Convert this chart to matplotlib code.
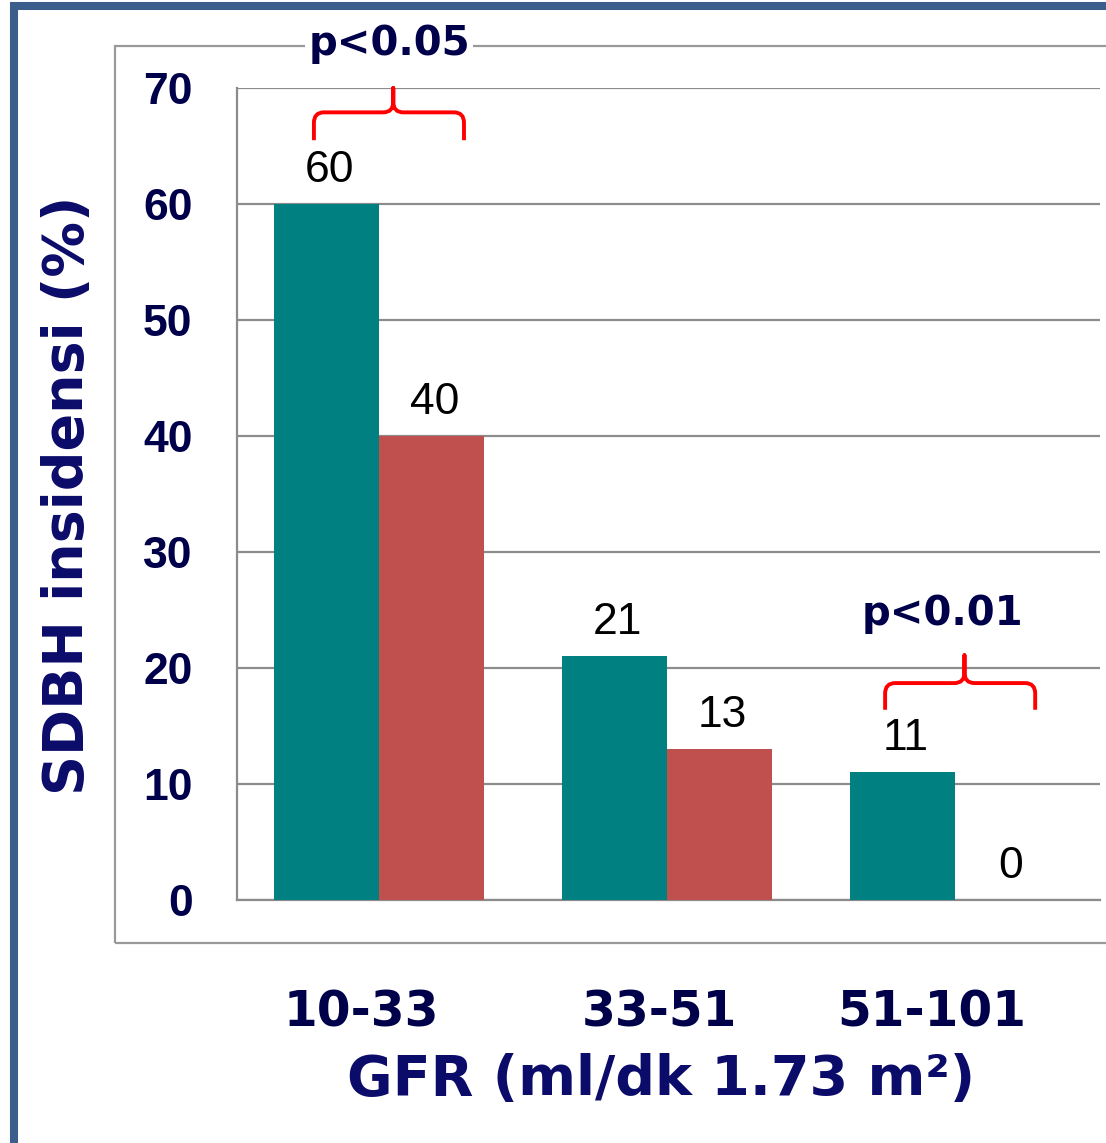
import numpy as np
import matplotlib.pyplot as plt
from matplotlib.patches import Rectangle, PathPatch
from matplotlib.path import Path

# GFR groups and SDBH incidence (%) per group, two series
groups = ['10-33', '33-51', '51-101']
series_a = [60, 21, 11]
series_b = [40, 13, 0]
yticks = [0, 10, 20, 30, 40, 50, 60, 70]

teal = '#008080'
red = '#c0504d'
navy = '#00004a'
navy2 = '#0b0b6a'
grid_c = '#8c8c8c'

fig = plt.figure(figsize=(11.06, 11.43), dpi=100)
fig.patch.set_facecolor('white')

# slide frame (left and top edge only show)
fig.add_artist(Rectangle((14/1106, -0.5), 2, 1.5 - 6/1143, transform=fig.transFigure,
                         fill=False, edgecolor='#3b5e8c', lw=5.8, zorder=0))
# chart area frame
fig.add_artist(Rectangle((115/1106, 1 - 943/1143), 2, (943 - 46)/1143, transform=fig.transFigure,
                         fill=False, edgecolor='#999999', lw=1.6, zorder=0))

ax = fig.add_axes([237/1106, 1 - 900/1143, 863/1106, 812/1143])
x = np.arange(len(groups))
w = 0.365
ax.bar(x - w/2, series_a, w, color=teal, zorder=3)
ax.bar(x + w/2, series_b, w, color=red, zorder=3)

for xi, a, b in zip(x, series_a, series_b):
    ax.annotate(str(a), (xi - w/2, a), xytext=(2, 16), textcoords='offset points',
                ha='center', va='baseline', fontsize=32, family='Liberation Sans')
    ax.annotate(str(b), (xi + w/2, b), xytext=(2, 16), textcoords='offset points',
                ha='center', va='baseline', fontsize=32, family='Liberation Sans')

ax.set_xlim(-0.493, 2.503)
ax.set_ylim(0, 70)
ax.set_yticks(yticks)
ax.set_yticklabels([str(t) for t in yticks], fontsize=32, fontweight='bold',
                   family='Liberation Sans', color=navy)
ax.tick_params(axis='y', length=0, pad=32)
ax.yaxis.grid(True, color=grid_c, lw=1.6, zorder=0)
ax.set_axisbelow(True)

label_shift = np.array([-0.06, -0.025, -0.08])
ax.set_xticks(x + label_shift)
ax.set_xticklabels(groups, fontsize=35, fontweight='bold', family='DejaVu Sans', color=navy)
ax.tick_params(axis='x', length=0, pad=64)

for s in ['top', 'right']:
    ax.spines[s].set_visible(False)
for s in ['left', 'bottom']:
    ax.spines[s].set_color(grid_c)
    ax.spines[s].set_linewidth(1.6)

fig.text(68/1106, 1 - 495/1143, 'SDBH insidensi (%)', rotation=90, ha='center', va='center',
         fontsize=40, fontweight='bold', color=navy2, family='DejaVu Sans')
fig.text(661/1106, 1 - 1080/1143, 'GFR (ml/dk 1.73 m²)', ha='center', va='center',
         fontsize=40, fontweight='bold', color=navy2, family='DejaVu Sans')

# curly significance brackets with rounded corners
def brace(x0, x1, ylow, ymid, ytop, rx=0.035, ry=0.9):
    xm = (x0 + x1) / 2 + 0.015
    verts = [(x0, ylow), (x0, ymid - ry), (x0, ymid), (x0 + rx, ymid),
             (xm - rx, ymid), (xm, ymid), (xm, ymid + ry), (xm, ytop),
             (xm, ymid + ry), (xm, ymid), (xm + rx, ymid),
             (x1 - rx, ymid), (x1, ymid), (x1, ymid - ry), (x1, ylow)]
    codes = [Path.MOVETO, Path.LINETO, Path.CURVE3, Path.CURVE3,
             Path.LINETO, Path.CURVE3, Path.CURVE3, Path.LINETO,
             Path.LINETO, Path.CURVE3, Path.CURVE3,
             Path.LINETO, Path.CURVE3, Path.CURVE3, Path.LINETO]
    ax.add_patch(PathPatch(Path(verts, codes), fill=False, edgecolor='#ff0000', lw=2.8,
                           joinstyle='round', capstyle='butt', clip_on=False, zorder=5))

brace(-0.226, 0.295, 65.5, 67.9, 70.0)
brace(1.757, 2.278, 16.4, 18.7, 21.1)

fig.text(389/1106, 1 - 44/1143, 'p<0.05', ha='center', va='center', fontsize=29,
         fontweight='bold', color=navy, family='DejaVu Sans',
         bbox=dict(facecolor='white', edgecolor='none', pad=2))
fig.text(942/1106, 1 - 614/1143, 'p<0.01', ha='center', va='center', fontsize=29,
         fontweight='bold', color=navy, family='DejaVu Sans')

plt.savefig('out.png', dpi=100)
plt.close()
